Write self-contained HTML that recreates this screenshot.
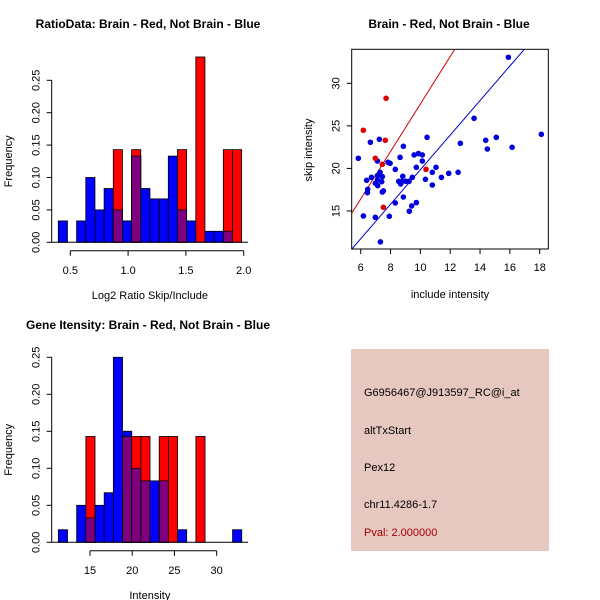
<!DOCTYPE html>
<html><head><meta charset="utf-8"><style>
html,body{margin:0;padding:0;background:#fff;}
svg{display:block;font-family:"Liberation Sans",sans-serif;}
</style></head><body>
<svg id="c" width="600" height="600" viewBox="0 0 600 600" xmlns="http://www.w3.org/2000/svg">
<rect x="0" y="0" width="600" height="600" fill="#fff"/>
<text x="148" y="28" text-anchor="middle" font-size="12" font-weight="bold">RatioData: Brain - Red, Not Brain - Blue</text>
<text x="449" y="28" text-anchor="middle" font-size="12" font-weight="bold">Brain - Red, Not Brain - Blue</text>
<text x="148" y="329" text-anchor="middle" font-size="12" font-weight="bold">Gene Itensity: Brain - Red, Not Brain - Blue</text>
<g id="info">
<rect x="351" y="349" width="198" height="202" fill="#e6c8c1"/>
<text x="364" y="396" font-size="11">G6956467@J913597_RC@i_at</text>
<text x="364" y="434" font-size="11">altTxStart</text>
<text x="364" y="471" font-size="11">Pex12</text>
<text x="364" y="508" font-size="11">chr11.4286-1.7</text>
<text x="364" y="536" font-size="11" fill="#a00000">Pval: 2.000000</text>
</g>
</svg>
<script>
// ---- data: ratio histogram ----
const ratioBinStart = 0.396;
const ratioBinWidth = 0.0793;
const ratioBlue = [0.033,0,0.033,0.1,0.05,0.083,0.05,0.033,0.133,0.083,0.067,0.067,0.133,0.05,0.033,0,0.017,0.017,0.017,0];
const ratioRed  = [0,0,0,0,0,0,0.143,0,0.143,0,0,0,0,0.143,0,0.286,0,0,0.143,0.143];
const ratioXTicks = [0.5,1.0,1.5,2.0];
const ratioXTickLabels = ["0.5","1.0","1.5","2.0"];
const ratioYTicks = [0,0.05,0.10,0.15,0.20,0.25];
const ratioYTickLabels = ["0.00","0.05","0.10","0.15","0.20","0.25"];
// ---- data: intensity histogram ----
const intBinStart = 11.25;
const intBinWidth = 1.086;
const intBlue = [0.017,0,0.05,0.033,0.05,0.067,0.25,0.15,0.1,0.083,0.083,0.083,0,0.017,0,0,0,0,0,0.017];
const intRed  = [0,0,0,0.143,0,0,0,0.143,0.143,0.143,0,0.143,0.143,0,0,0.143,0,0,0,0];
const intXTicks = [15,20,25,30];
const intXTickLabels = ["15","20","25","30"];
const intYTicks = [0,0.05,0.10,0.15,0.20,0.25];
const intYTickLabels = ["0.00","0.05","0.10","0.15","0.20","0.25"];
// ---- data: scatter ----
const redX = [6.18,7.70,7.65,6.98,7.45,7.52,10.38];
const redY = [24.48,28.24,23.30,21.19,20.48,15.43,19.89];
const blueX = [5.84,6.18,6.65,7.25,6.40,6.47,6.45,6.72,6.98,7.12,7.14,7.12,7.12,7.30,7.41,7.45,7.45,7.52,6.98,7.92,7.32,7.83,7.97,8.32,8.32,8.64,8.55,8.68,8.77,8.82,8.86,8.86,9.04,9.26,9.24,9.42,9.46,9.58,9.73,9.73,9.87,10.13,10.13,10.34,10.45,10.80,10.80,11.05,11.41,11.90,12.53,12.68,13.60,14.38,14.49,15.09,15.90,16.15,18.11];
const blueY = [21.19,14.41,23.07,23.42,18.60,17.54,17.15,18.95,18.25,18.64,17.98,20.87,19.15,19.54,18.44,19.03,17.23,17.35,14.25,14.37,11.36,20.72,20.60,19.89,15.94,21.30,18.48,18.17,18.48,19.07,22.60,16.64,18.48,14.96,18.48,15.59,18.95,21.58,15.98,20.13,21.74,21.58,20.87,18.72,23.65,19.54,18.05,20.13,18.95,19.42,19.54,22.95,25.89,23.30,22.28,23.65,33.06,22.48,24.01];
const scatterXTicks = [6,8,10,12,14,16,18];
const scatterYTicks = [15,20,25,30];
const blueLine = [2.03,-0.45];  // slope, intercept
const redLine = [2.79,-0.33];

const NS="http://www.w3.org/2000/svg";
const svg=document.getElementById('c');
function mk(tag,attrs,parent){const e=document.createElementNS(NS,tag);for(const k in attrs)e.setAttribute(k,attrs[k]);(parent||svg).appendChild(e);return e;}

function histogram(o){
  const g=mk('g',{});
  
  
  const sx=v=>o.x0px+(v-o.x0)*o.xs, sy=v=>o.y0px-v*o.ys;
  const n=o.blue.length;
  for(let i=0;i<n;i++){
    const l=sx(o.binStart+i*o.binW), r=sx(o.binStart+(i+1)*o.binW);
    const b=o.blue[i], rd=o.red[i];
    if(b>0){const e=mk('rect',{x:l,y:sy(b),width:r-l,height:sy(0)-sy(b),fill:'#0000ff',stroke:'#000','stroke-width':0.8},g);
      }
    if(rd>0){const e=mk('rect',{x:l,y:sy(rd),width:r-l,height:sy(0)-sy(rd),fill:'#ff0000',stroke:'#000','stroke-width':0.8},g);
      }
    if(b>0&&rd>0){const m=Math.min(b,rd);
      if(b>rd){const e=mk('rect',{x:l,y:sy(b),width:r-l,height:sy(0)-sy(b),fill:'#0000ff',stroke:'#000','stroke-width':0.8},g);
        }
      const e=mk('rect',{x:l,y:sy(m),width:r-l,height:sy(0)-sy(m),fill:'#7f007f',stroke:'#000','stroke-width':0.8},g);
      }
  }
  mk('line',{x1:o.axL,x2:o.axR,y1:sy(0),y2:sy(0),stroke:'#000'},g);
  // y axis
  const ya=mk('g',{},g);
  
  mk('line',{x1:o.axL,x2:o.axL,y1:sy(o.yTicks[0]),y2:sy(o.yTicks[o.yTicks.length-1]),stroke:'#000'},ya);
  o.yTicks.forEach((t,i)=>{const y=sy(t);
    mk('line',{x1:o.axL-5,x2:o.axL,y1:y,y2:y,stroke:'#000'},ya);
    const tx=mk('text',{x:o.axL-12,y:y,'font-size':11,'text-anchor':'middle',transform:`rotate(-90 ${o.axL-12} ${y})`},ya);
    tx.textContent=o.yLabels[i];
    });
  const yt=mk('text',{x:12,y:(sy(0)+sy(o.yTicks[o.yTicks.length-1]))/2,'font-size':11,'text-anchor':'middle',transform:`rotate(-90 12 ${(sy(0)+sy(o.yTicks[o.yTicks.length-1]))/2})`},g);
  yt.textContent='Frequency';
  // x axis
  const xa=mk('g',{},g);
  
  const ay=o.y0px+8.5;
  mk('line',{x1:sx(o.xTicks[0]),x2:sx(o.xTicks[o.xTicks.length-1]),y1:ay,y2:ay,stroke:'#000'},xa);
  o.xTicks.forEach((t,i)=>{const x=sx(t);
    mk('line',{x1:x,x2:x,y1:ay,y2:ay+5,stroke:'#000'},xa);
    const tx=mk('text',{x:x,y:ay+23,'font-size':11,'text-anchor':'middle'},xa);
    tx.textContent=o.xLabels[i];});
  const xt=mk('text',{x:(o.axL+o.axR)/2,y:ay+48,'font-size':11,'text-anchor':'middle'},g);
  xt.textContent=o.xTitle;
}

histogram({name:'ratio-histogram',blue:ratioBlue,red:ratioRed,binStart:ratioBinStart,binW:ratioBinWidth,
  x0:0.5,x0px:70.3,xs:115.6,y0px:242.3,ys:648,axL:51.7,axR:248,
  xTicks:ratioXTicks,xLabels:ratioXTickLabels,yTicks:ratioYTicks,yLabels:ratioYTickLabels,xTitle:'Log2 Ratio Skip/Include'});
histogram({name:'intensity-histogram',blue:intBlue,red:intRed,binStart:intBinStart,binW:intBinWidth,
  x0:15,x0px:90,xs:8.444,y0px:542.3,ys:740,axL:51.7,axR:248,
  xTicks:intXTicks,xLabels:intXTickLabels,yTicks:intYTicks,yLabels:intYTickLabels,xTitle:'Intensity'});

// scatter
(function(){
  const g=mk('g',{});
  
  const L=351.7,R=548.3,T=49.3,B=249;
  const sx=v=>360.7+(v-6)*14.917, sy=v=>83.3+(30-v)*8.51;
  const cp=mk('clipPath',{id:'sc'},svg);mk('rect',{x:L,y:T,width:R-L,height:B-T},cp);
  const lg=mk('g',{'clip-path':'url(#sc)'},g);
  const xa=5.3,xb=19;
  const rl=mk('line',{x1:sx(xa),y1:sy(redLine[0]*xa+redLine[1]),x2:sx(xb),y2:sy(redLine[0]*xb+redLine[1]),stroke:'#cc0000','stroke-width':1},lg);
  
  const bl=mk('line',{x1:sx(xa),y1:sy(blueLine[0]*xa+blueLine[1]),x2:sx(xb),y2:sy(blueLine[0]*xb+blueLine[1]),stroke:'#0000cc','stroke-width':1},lg);
  
  blueX.forEach((x,i)=>{const c=mk('circle',{cx:sx(x),cy:sy(blueY[i]),r:2.8,fill:'#0000dd'},g);
    });
  redX.forEach((x,i)=>{const c=mk('circle',{cx:sx(x),cy:sy(redY[i]),r:2.8,fill:'#dd0000'},g);
    });
  mk('rect',{x:L,y:T,width:R-L,height:B-T,fill:'none',stroke:'#000'},g);
  const xg=mk('g',{},g);
  scatterXTicks.forEach(t=>{const x=sx(t);mk('line',{x1:x,x2:x,y1:B,y2:B+5,stroke:'#000'},xg);
    const tx=mk('text',{x:x,y:B+22,'font-size':11,'text-anchor':'middle'},xg);tx.textContent=String(t);
    });
  const yg=mk('g',{},g);
  scatterYTicks.forEach(t=>{const y=sy(t);mk('line',{x1:L-5,x2:L,y1:y,y2:y,stroke:'#000'},yg);
    const tx=mk('text',{x:L-12,y:y,'font-size':11,'text-anchor':'middle',transform:`rotate(-90 ${L-12} ${y})`},yg);tx.textContent=String(t);
    });
  const xt=mk('text',{x:(L+R)/2,y:298,'font-size':11,'text-anchor':'middle'},g);xt.textContent='include intensity';
  
  const yt=mk('text',{x:312,y:150,'font-size':11,'text-anchor':'middle',transform:'rotate(-90 312 150)'},g);yt.textContent='skip intensity';
  
})();
</script>
</body></html>
